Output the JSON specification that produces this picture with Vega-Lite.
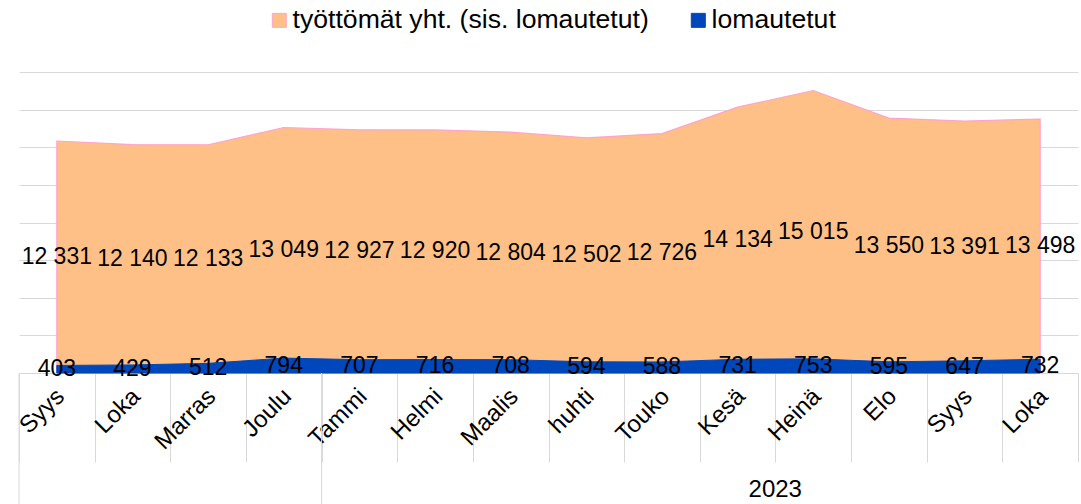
{
  "$schema": "https://vega.github.io/schema/vega-lite/v6.json",
  "width": 1059,
  "height": 301,
  "autosize": "none",
  "padding": {"left": 19, "top": 72, "right": 3, "bottom": 131},
  "config": {
    "view": {"stroke": null},
    "font": "Liberation Sans",
    "locale": {"number": {"decimal": ",", "thousands": " ", "grouping": [3], "currency": ["", " €"]}}
  },
  "datasets": {
    "main": [
      {"kk": "Syys|2022", "sarja": "työttömät yht. (sis. lomautetut)", "arvo": 12331},
      {"kk": "Loka|2022", "sarja": "työttömät yht. (sis. lomautetut)", "arvo": 12140},
      {"kk": "Marras|2022", "sarja": "työttömät yht. (sis. lomautetut)", "arvo": 12133},
      {"kk": "Joulu|2022", "sarja": "työttömät yht. (sis. lomautetut)", "arvo": 13049},
      {"kk": "Tammi|2023", "sarja": "työttömät yht. (sis. lomautetut)", "arvo": 12927},
      {"kk": "Helmi|2023", "sarja": "työttömät yht. (sis. lomautetut)", "arvo": 12920},
      {"kk": "Maalis|2023", "sarja": "työttömät yht. (sis. lomautetut)", "arvo": 12804},
      {"kk": "huhti|2023", "sarja": "työttömät yht. (sis. lomautetut)", "arvo": 12502},
      {"kk": "Touko|2023", "sarja": "työttömät yht. (sis. lomautetut)", "arvo": 12726},
      {"kk": "Kesä|2023", "sarja": "työttömät yht. (sis. lomautetut)", "arvo": 14134},
      {"kk": "Heinä|2023", "sarja": "työttömät yht. (sis. lomautetut)", "arvo": 15015},
      {"kk": "Elo|2023", "sarja": "työttömät yht. (sis. lomautetut)", "arvo": 13550},
      {"kk": "Syys|2023", "sarja": "työttömät yht. (sis. lomautetut)", "arvo": 13391},
      {"kk": "Loka|2023", "sarja": "työttömät yht. (sis. lomautetut)", "arvo": 13498},
      {"kk": "Syys|2022", "sarja": "lomautetut", "arvo": 403},
      {"kk": "Loka|2022", "sarja": "lomautetut", "arvo": 429},
      {"kk": "Marras|2022", "sarja": "lomautetut", "arvo": 512},
      {"kk": "Joulu|2022", "sarja": "lomautetut", "arvo": 794},
      {"kk": "Tammi|2023", "sarja": "lomautetut", "arvo": 707},
      {"kk": "Helmi|2023", "sarja": "lomautetut", "arvo": 716},
      {"kk": "Maalis|2023", "sarja": "lomautetut", "arvo": 708},
      {"kk": "huhti|2023", "sarja": "lomautetut", "arvo": 594},
      {"kk": "Touko|2023", "sarja": "lomautetut", "arvo": 588},
      {"kk": "Kesä|2023", "sarja": "lomautetut", "arvo": 731},
      {"kk": "Heinä|2023", "sarja": "lomautetut", "arvo": 753},
      {"kk": "Elo|2023", "sarja": "lomautetut", "arvo": 595},
      {"kk": "Syys|2023", "sarja": "lomautetut", "arvo": 647},
      {"kk": "Loka|2023", "sarja": "lomautetut", "arvo": 732}
    ],
    "ryhmat": [
      {"kk": "Syys|2022", "ala": 0, "yla": -6970},
      {"kk": "Tammi|2023", "ala": 0, "yla": -6970}
    ],
    "vuodet": [
      {"kk": "Heinä|2023", "vuosi": "2023", "taso": -6225}
    ]
  },
  "data": {"name": "main"},
  "encoding": {
    "x": {
      "field": "kk",
      "type": "ordinal",
      "title": null,
      "scale": {
        "type": "band",
        "paddingInner": 0,
        "paddingOuter": 0,
        "domain": ["Syys|2022", "Loka|2022", "Marras|2022", "Joulu|2022", "Tammi|2023", "Helmi|2023", "Maalis|2023", "huhti|2023", "Touko|2023", "Kesä|2023", "Heinä|2023", "Elo|2023", "Syys|2023", "Loka|2023"]
      }
    }
  },
  "layer": [
    {
      "encoding": {
        "y": {
          "field": "arvo",
          "type": "quantitative",
          "title": null,
          "scale": {"domain": [0, 16000], "nice": false, "zero": true},
          "axis": {
            "values": [0, 2000, 4000, 6000, 8000, 10000, 12000, 14000, 16000],
            "labels": false, "ticks": false, "domain": false,
            "grid": true, "gridColor": "#d9d9d9", "gridWidth": 1
          }
        }
      },
      "layer": [
        {
          "transform": [{"filter": "datum.sarja === 'työttömät yht. (sis. lomautetut)'"}],
          "mark": {"type": "area", "strokeWidth": 1.2},
          "encoding": {
            "x": {
              "field": "kk",
              "type": "ordinal",
              "axis": {
                "labelExpr": "datum.value ? split(datum.value, '|')[0] : ''",
                "labelAngle": -45,
                "labelAlign": "right",
                "labelBaseline": "top",
                "labelPadding": -78,
                "labelOffset": -5,
                "labelFontSize": 24,
                "labelColor": "#000000",
                "labelFont": "Liberation Sans",
                "labelOverlap": false,
                "tickBand": "extent",
                "tickSize": 89,
                "tickColor": "#d9d9d9",
                "tickWidth": 1,
                "domainColor": "#d9d9d9",
                "domainWidth": 1,
                "grid": false
              }
            },
            "color": {
              "field": "sarja",
              "type": "nominal",
              "title": null,
              "scale": {"domain": ["työttömät yht. (sis. lomautetut)", "lomautetut"], "range": ["#ffc087", "#0047bb"]},
              "legend": {
                "orient": "none",
                "direction": "horizontal",
                "legendX": 247,
                "legendY": -65,
                "symbolType": "square",
                "symbolSize": 196,
                "symbolStrokeWidth": 1,
                "symbolOpacity": 1,
                "labelFontSize": 26.6,
                "labelLimit": 0,
                "labelColor": "#000000",
                "labelFont": "Liberation Sans",
                "labelOffset": 0,
                "columnPadding": 36,
                "padding": 0
              }
            },
            "stroke": {
              "field": "sarja",
              "type": "nominal",
              "title": null,
              "scale": {"domain": ["työttömät yht. (sis. lomautetut)", "lomautetut"], "range": ["#ffa3cf", "#0047bb"]}
            },
            "opacity": {"value": 1}
          }
        },
        {
          "transform": [{"filter": "datum.sarja === 'lomautetut'"}],
          "mark": {"type": "area", "strokeWidth": 1},
          "encoding": {
            "color": {"field": "sarja", "type": "nominal"},
            "stroke": {"field": "sarja", "type": "nominal"},
            "opacity": {"value": 1}
          }
        }
      ]
    },
    {
      "mark": {"type": "text", "fontSize": 23, "color": "#000000", "baseline": "middle", "align": "center"},
      "encoding": {
        "y": {
          "field": "arvo",
          "type": "quantitative",
          "scale": {"domain": [0, 32000], "nice": false},
          "axis": null
        },
        "text": {"field": "arvo", "type": "quantitative", "format": ",d"}
      }
    },
    {
      "data": {"name": "ryhmat"},
      "mark": {"type": "rule", "color": "#d9d9d9", "strokeWidth": 1},
      "encoding": {
        "x": {"field": "kk", "type": "ordinal", "bandPosition": 0},
        "y": {"field": "ala", "type": "quantitative", "scale": {"domain": [0, 16000], "nice": false, "zero": false}, "axis": null},
        "y2": {"field": "yla"}
      }
    },
    {
      "data": {"name": "vuodet"},
      "mark": {"type": "text", "fontSize": 24, "color": "#000000", "baseline": "middle", "align": "center", "dx": -38},
      "encoding": {
        "x": {"field": "kk", "type": "ordinal"},
        "y": {"field": "taso", "type": "quantitative", "scale": {"domain": [0, 16000], "nice": false, "zero": false}, "axis": null},
        "text": {"field": "vuosi"}
      }
    }
  ],
  "resolve": {"scale": {"y": "independent"}}
}
